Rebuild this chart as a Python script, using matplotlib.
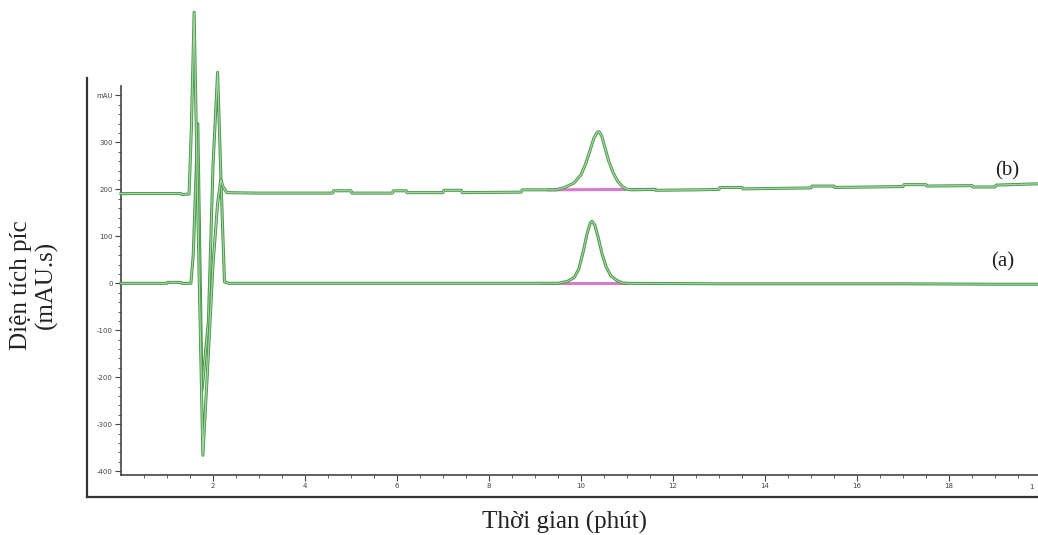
import matplotlib as mpl
mpl.use('Agg')
import matplotlib.pyplot as plt
import matplotlib.patheffects as pe

# trace (a) - sample, baseline around 0 mAU
t_a = [0.0, 1.0, 1.02, 1.3, 1.32, 1.52, 1.57, 1.67, 1.76, 1.9, 2.0, 2.1, 2.18, 2.25, 2.35,
       4.0, 6.0, 8.0, 9.5, 9.7, 9.85, 9.95, 10.05, 10.13, 10.2, 10.24, 10.3, 10.38, 10.46,
       10.55, 10.65, 10.78, 10.9, 11.0, 13.0, 15.0, 17.0, 19.0, 20.0]
v_a = [0, 0, 2, 2, 0, 0, 60, 340, -228, -80, 250, 449, 200, 3, 0,
       0, 0, 0, 0, 4, 12, 30, 68, 105, 128, 132, 124, 95, 62,
       34, 16, 6, 1, 0, -1, -1, -1, -2, -2]

# trace (b) - offset by ~190 mAU, slowly drifting baseline
t_b = [0.0, 1.3, 1.32, 1.48, 1.53, 1.59, 1.66, 1.78, 1.9, 2.0, 2.1, 2.17, 2.22, 2.3, 3.0,
       4.6, 4.62, 5.0, 5.02, 5.9, 5.92, 6.2, 6.22, 7.0, 7.02, 7.4, 7.42, 8.7, 8.72, 9.2,
       9.45, 9.65, 9.85, 10.0, 10.1, 10.2, 10.28, 10.35, 10.39, 10.45, 10.52, 10.6, 10.7,
       10.8, 10.9, 11.0, 11.1, 11.6, 11.62, 12.5, 13.0, 13.02, 13.5, 13.52, 15.0, 15.02,
       15.5, 15.52, 17.0, 17.02, 17.5, 17.52, 18.5, 18.52, 19.0, 19.02, 20.0]
v_b = [191, 191, 189, 190, 330, 577, 200, -366, -150, 40, 170, 221, 205, 193, 192,
       192, 197, 197, 192, 192, 197, 197, 193, 193, 198, 198, 193, 194, 199, 199,
       199, 204, 214, 231, 254, 284, 309, 321, 323, 314, 289, 261, 235,
       217, 206, 200, 199, 200, 198, 199, 200, 204, 204, 201, 203, 207,
       207, 204, 206, 210, 210, 207, 208, 205, 205, 209, 212]

# integration baselines (pink)
int_a_t = [9.15, 11.0]
int_a_v = [0, 0]
int_b_t = [9.29, 11.61]
int_b_v = [199, 200]

xticks = [2, 4, 6, 8, 10, 12, 14, 16, 18, 20]
yticks = [-400, -300, -200, -100, 0, 100, 200, 300, 400]
ylabels = ['-400', '-300', '-200', '-100', '0', '100', '200', '300', 'mAU']

W, H = 1038, 535
fig = plt.figure(figsize=(W / 100, H / 100), dpi=100, facecolor='white')

# outer frame (left + bottom line only)
frame = fig.add_axes([87 / W, (H - 497) / H, 1 - 87 / W, (497 - 78) / H])
frame.set_xticks([])
frame.set_yticks([])
for s in ['top', 'right']:
    frame.spines[s].set_visible(False)
for s in ['left', 'bottom']:
    frame.spines[s].set_color('#333333')
    frame.spines[s].set_linewidth(1.6)
frame.patch.set_alpha(0)

# inner chromatogram axes
ax = fig.add_axes([121 / W, (H - 475) / H, 920 / W, (475 - 86) / H])
ax.patch.set_alpha(0)
ax.set_xlim(0, 20)
ax.set_ylim(-408, 420)
for s in ['top', 'right']:
    ax.spines[s].set_visible(False)
for s in ['left', 'bottom']:
    ax.spines[s].set_color('#444444')
    ax.spines[s].set_linewidth(1.2)

ax.set_xticks(xticks)
# the "20" label is cut by the image edge in the original, only "1"-like stub shows
ax.set_xticklabels([str(x) for x in xticks[:-1]] + [''])
ax.set_xticks([x / 2 for x in range(1, 41)], minor=True)
ax.set_yticks(yticks)
ax.set_yticklabels(ylabels)
ax.set_yticks(list(range(-400, 420, 20)), minor=True)
ax.tick_params(axis='both', which='major', labelsize=5, length=4, width=0.8,
               colors='#444444', pad=2)
ax.tick_params(axis='both', which='minor', length=2, width=0.6, colors='#444444')
ax.text(19.8, -0.022, '1', transform=ax.get_xaxis_transform(), fontsize=5,
        color='#444444', ha='center', va='top')

effects = [pe.Stroke(linewidth=2.2, foreground='#4a984a'), pe.Normal()]
ax.plot(int_a_t, int_a_v, color='#d57ccf', lw=2.2, zorder=2)
ax.plot(int_b_t, int_b_v, color='#d57ccf', lw=2.2, zorder=2)
ax.plot(t_a, v_a, color='#a5d6a5', lw=0.8, clip_on=False, zorder=3, path_effects=effects)
ax.plot(t_b, v_b, color='#a5d6a5', lw=0.9, clip_on=False, zorder=3, path_effects=effects)

ax.text(19.26, 240, '(b)', family='Liberation Serif', fontsize=15, ha='center', va='center',
        color='#222222')
ax.text(19.17, 45, '(a)', family='Liberation Serif', fontsize=15, ha='center', va='center',
        color='#222222')

fig.text(34 / W, 1 - 285 / H, 'Diện tích píc\n(mAU.s)', rotation=90, ha='center',
         va='center', family='Liberation Serif', fontsize=18, color='#222222',
         multialignment='center', linespacing=1.2)
fig.text(565 / W, 1 - 522 / H, 'Thời gian (phút)', ha='center', va='center',
         family='Liberation Serif', fontsize=18, color='#222222')

fig.savefig('out.png', dpi=100, facecolor='white')
